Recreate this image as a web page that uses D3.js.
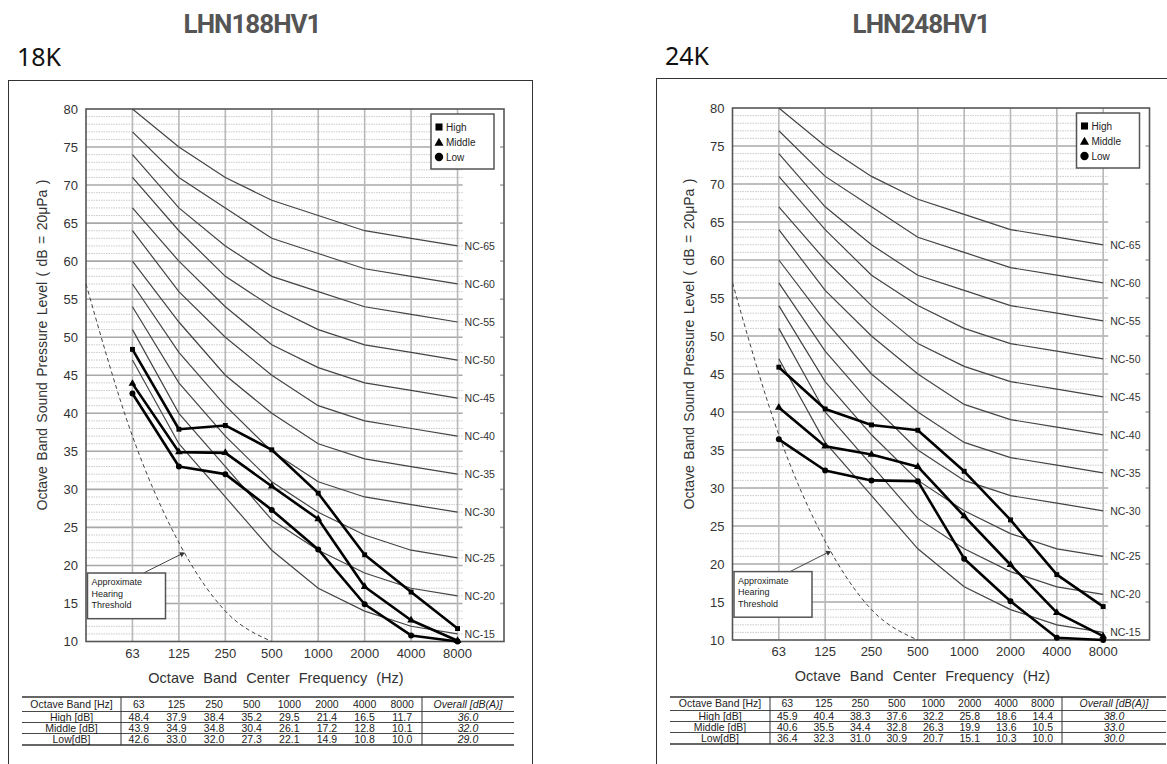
<!DOCTYPE html>
<html><head><meta charset="utf-8">
<script src="https://cdn.jsdelivr.net/npm/d3@7"></script>
<style>body{margin:0;background:#fff}svg{display:block}</style>
</head><body><svg id="c" width="1167" height="764"></svg>
<script>
// ---------- data ----------
const bands = ["63","125","250","500","1000","2000","4000","8000"];
const xEdges = ["31.5","63","125","250","500","1000","2000","4000","8000","16000"];
const yTicks = [10,15,20,25,30,35,40,45,50,55,60,65,70,75,80];
const ncNames = ["NC-15","NC-20","NC-25","NC-30","NC-35","NC-40","NC-45","NC-50","NC-55","NC-60","NC-65"];
const ncValues = [
  [47,36,29,22,17,14,12,11],
  [51,40,33,26,22,19,17,16],
  [54,44,37,31,27,24,22,21],
  [57,48,41,35,31,29,28,27],
  [60,52,45,40,36,34,33,32],
  [64,56,50,45,41,39,38,37],
  [67,60,54,49,46,44,43,42],
  [71,64,58,54,51,49,48,47],
  [74,67,62,58,56,54,53,52],
  [77,71,67,63,61,59,58,57],
  [80,75,71,68,66,64,63,62]
];
const thresholdBands = ["31.5","63","125","250","500"];
const thresholdValues = [57,37,23,14,10];
const seriesNames = ["High","Middle","Low"];
const rowLabels = ["High [dB]","Middle [dB]","Low[dB]"];

const high18   = [48.4,37.9,38.4,35.2,29.5,21.4,16.5,11.7];
const middle18 = [43.9,34.9,34.8,30.4,26.1,17.2,12.8,10.1];
const low18    = [42.6,33.0,32.0,27.3,22.1,14.9,10.8,10.0];
const overall18 = ["36.0","32.0","29.0"];

const high24   = [45.9,40.4,38.3,37.6,32.2,25.8,18.6,14.4];
const middle24 = [40.6,35.5,34.4,32.8,26.3,19.9,13.6,10.5];
const low24    = [36.4,32.3,31.0,30.9,20.7,15.1,10.3,10.0];
const overall24 = ["38.0","33.0","30.0"];

// ---------- layout ----------
const svg = d3.select("#c");
const FONT = "'Liberation Sans', Arial, sans-serif";

const panels = [
  {title:"LHN188HV1", sub:"18K", titleX:252, subX:17, subY:66, fx:8, fy:80,
   left:86, right:504, top:109, bottom:641.5,
   tbl:{x0:22, c1:121, c2:422, x1:514, rows:[697,711.5,722.5,733.5,745]},
   data:[high18,middle18,low18], overall:overall18},
  {title:"LHN248HV1", sub:"24K", titleX:921, subX:665, subY:65, fx:656, fy:78,
   left:732.5, right:1149.5, top:108, bottom:640,
   tbl:{x0:670, c1:770, c2:1062, x1:1166, rows:[697,710.5,721.5,732.5,744]},
   data:[high24,middle24,low24], overall:overall24}
];

const symbols = [d3.symbolSquare, d3.symbolTriangle, d3.symbolCircle];
const symSize = [24, 26, 28];

panels.forEach(p => {
  const g = svg.append("g");
  // titles
  g.append("text").attr("x",p.titleX).attr("y",33).attr("text-anchor","middle")
    .style("font-family","Roboto, sans-serif").style("font-weight","bold").style("font-size","26px")
    .style("letter-spacing","-1px")
    .attr("fill","#555").text(p.title);
  g.append("text").attr("x",p.subX).attr("y",p.subY)
    .style("font-family","'Noto Sans', sans-serif").style("font-size","25px")
    .attr("fill","#111").text(p.sub);
  // frame
  g.append("rect").attr("x",p.fx+0.5).attr("y",p.fy+0.5).attr("width",524).attr("height",764-p.fy+20)
    .attr("fill","none").attr("stroke","#333").attr("stroke-width",1);

  const x = d3.scalePoint().domain(xEdges).range([p.left,p.right]);
  const y = d3.scaleLinear().domain([10,80]).range([p.bottom,p.top]);
  const gridEnd = x("8000")+5;

  // minor grid (1 dB, dotted)
  const minor = d3.range(11,80).filter(v => v%5 !== 0);
  g.append("g").selectAll("line").data(minor).join("line")
    .attr("x1",p.left).attr("x2",gridEnd).attr("y1",d=>y(d)).attr("y2",d=>y(d))
    .attr("stroke","#bdbdbd").attr("stroke-width",0.8).attr("stroke-dasharray","1.5,1");
  // major grid
  g.append("g").selectAll("line").data(yTicks.slice(1,-1)).join("line")
    .attr("x1",p.left).attr("x2",gridEnd).attr("y1",d=>y(d)).attr("y2",d=>y(d))
    .attr("stroke","#a8a8a8").attr("stroke-width",1.6);
  // right stubs
  g.append("g").selectAll("line").data(yTicks.slice(1,-1)).join("line")
    .attr("x1",p.right-4).attr("x2",p.right).attr("y1",d=>y(d)).attr("y2",d=>y(d))
    .attr("stroke","#a8a8a8").attr("stroke-width",1.6);
  // vertical grid
  g.append("g").selectAll("line").data(bands).join("line")
    .attr("x1",d=>x(d)).attr("x2",d=>x(d)).attr("y1",p.top).attr("y2",p.bottom)
    .attr("stroke","#b8b8b8").attr("stroke-width",1.6);
  // border
  g.append("rect").attr("x",p.left).attr("y",p.top).attr("width",p.right-p.left).attr("height",p.bottom-p.top)
    .attr("fill","none").attr("stroke","#555").attr("stroke-width",1.6);

  // y tick labels
  g.append("g").selectAll("text").data(yTicks).join("text")
    .attr("x",p.left-8).attr("y",d=>y(d)+4.5).attr("text-anchor","end")
    .style("font-family",FONT).style("font-size","13px").attr("fill","#333").text(d=>d);
  // x tick labels
  g.append("g").selectAll("text").data(bands).join("text")
    .attr("x",d=>x(d)).attr("y",p.bottom+16).attr("text-anchor","middle")
    .style("font-family",FONT).style("font-size","13px").attr("fill","#333").text(d=>d);

  // NC curves
  const line = d3.line().x((d,i)=>x(bands[i])).y(d=>y(d));
  g.append("g").selectAll("path").data(ncValues).join("path")
    .attr("d",line).attr("fill","none").attr("stroke","#444").attr("stroke-width",1.2);
  g.append("g").selectAll("text").data(ncNames).join("text")
    .attr("x",x("8000")+7).attr("y",(d,i)=>y(ncValues[i][7])+4)
    .style("font-family",FONT).style("font-size","10.5px").attr("fill","#333").text(d=>d);

  // hearing threshold
  const tline = d3.line().x((d,i)=>x(thresholdBands[i])).y(d=>y(d)).curve(d3.curveMonotoneX);
  g.append("path").attr("d",tline(thresholdValues)).attr("fill","none")
    .attr("stroke","#444").attr("stroke-width",1).attr("stroke-dasharray","4,3");

  // data series
  p.data.forEach((s,k) => {
    g.append("path").attr("d",line(s)).attr("fill","none").attr("stroke","#000").attr("stroke-width",2.6)
      .attr("stroke-linejoin","round");
    g.append("g").selectAll("path").data(s).join("path")
      .attr("transform",(d,i)=>`translate(${x(bands[i])},${y(d)})`)
      .attr("d",d3.symbol().type(symbols[k]).size(symSize[k])).attr("fill","#000");
  });

  // legend
  const lx = p.right-73, ly = p.top+5;
  g.append("rect").attr("x",lx).attr("y",ly).attr("width",63).attr("height",55)
    .attr("fill","#fff").attr("stroke","#555").attr("stroke-width",1.5);
  seriesNames.forEach((n,k) => {
    const yy = ly+13+k*15;
    g.append("path").attr("transform",`translate(${lx+8},${yy+(k===1?1:0)})`)
      .attr("d",d3.symbol().type(symbols[k]).size([50,36,55][k])).attr("fill","#000");
    g.append("text").attr("x",lx+15).attr("y",yy+3.5)
      .style("font-family",FONT).style("font-size","10px").attr("fill","#222").text(n);
  });

  // hearing threshold note
  const bx = p.left+1.5, by = y(19), bh = y(13)-y(19);
  g.append("line").attr("x1",bx+56).attr("y1",by).attr("x2",x("125")+4).attr("y2",y(21.6))
    .attr("stroke","#333").attr("stroke-width",0.9);
  g.append("path").attr("d",d3.symbol().type(d3.symbolTriangle).size(14))
    .attr("transform",`translate(${x("125")+3},${y(21.5)}) rotate(64)`).attr("fill","#333");
  g.append("rect").attr("x",bx).attr("y",by).attr("width",78).attr("height",bh)
    .attr("fill","#fff").attr("stroke","#555").attr("stroke-width",1.5);
  ["Approximate","Hearing","Threshold"].forEach((t,i) => {
    g.append("text").attr("x",bx+4).attr("y",by+12+i*11.5)
      .style("font-family",FONT).style("font-size","9px").attr("fill","#222").text(t);
  });

  // axis titles
  g.append("text").attr("x",p.left+190).attr("y",p.bottom+41).attr("text-anchor","middle")
    .style("font-family",FONT).style("font-size","14.5px").style("word-spacing","5px").attr("fill","#333")
    .text("Octave Band Center Frequency (Hz)");
  g.append("text").attr("transform",`translate(${p.left-39},${p.top+236}) rotate(-90)`)
    .attr("text-anchor","middle")
    .style("font-family",FONT).style("font-size","14px").style("word-spacing","1.5px").attr("fill","#333")
    .text("Octave Band Sound Pressure Level ( dB = 20μPa )");

  // table
  const t = p.tbl, r = t.rows;
  const tg = g.append("g");
  [0,4].forEach(i => tg.append("line").attr("x1",t.x0).attr("x2",t.x1).attr("y1",r[i]).attr("y2",r[i])
    .attr("stroke","#333").attr("stroke-width",1.5));
  [1,2,3].forEach(i => tg.append("line").attr("x1",t.x0).attr("x2",t.x1).attr("y1",r[i]).attr("y2",r[i])
    .attr("stroke","#333").attr("stroke-width",0.9));
  [t.c1,t.c2].forEach(cx => tg.append("line").attr("x1",cx).attr("x2",cx).attr("y1",r[0]).attr("y2",r[4])
    .attr("stroke","#333").attr("stroke-width",1));
  const cw = (t.c2-t.c1)/8;
  const colX = bands.map((b,i)=> t.c1 + cw*(i+0.5) - 1);
  const cy = i => (r[i]+r[i+1])/2 + 3.6;
  const tt = (xx,yy,s,it) => tg.append("text").attr("x",xx).attr("y",yy).attr("text-anchor","middle")
    .style("font-family",FONT).style("font-size","10.5px").style("font-style",it?"italic":"normal")
    .attr("fill","#222").text(s);
  tt((t.x0+t.c1)/2, cy(0), "Octave Band [Hz]");
  bands.forEach((b,i)=> tt(colX[i], cy(0), b));
  tt((t.c2+t.x1)/2, cy(0), "Overall [dB(A)]", true);
  p.data.forEach((s,k) => {
    tt((t.x0+t.c1)/2, cy(k+1), rowLabels[k]);
    s.forEach((v,i)=> tt(colX[i], cy(k+1), v.toFixed(1)));
    tt((t.c2+t.x1)/2, cy(k+1), p.overall[k], true);
  });
});
</script></body></html>
